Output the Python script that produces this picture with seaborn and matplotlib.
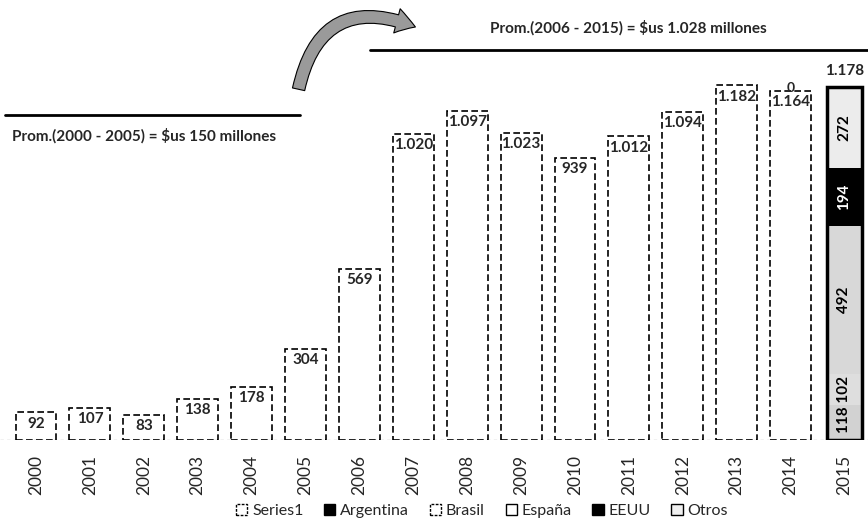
import pandas as pd
import matplotlib.pyplot as plt
import seaborn as sns
from matplotlib.patches import Patch, FancyArrowPatch
from matplotlib.lines import Line2D

# Data (millones de $us)
years = [str(y) for y in range(2000, 2016)]
series1 = [92, 107, 83, 138, 178, 304, 569, 1020, 1097, 1023, 939, 1012, 1094, 1182, 1164]
stack_names = ['Argentina', 'Brasil', 'España', 'EEUU', 'Otros']
stack_2015 = [118, 102, 492, 194, 272]
stack_colors = ['#d2d2d2', '#dedede', '#d8d8d8', '#000000', '#ececec']
stack_text = ['black', 'black', 'black', 'white', 'black']

prom_old = "Prom.(2000 - 2005) = $us 150 millones"
prom_new = "Prom.(2006 - 2015) = $us 1.028 millones"

sns.set_theme(style="white")
plt.rcParams['font.family'] = ['Lato', 'DejaVu Sans']


def fmt(v):
    return f"{v:,}".replace(",", ".")


W, H = 868, 529
fig = plt.figure(figsize=(W / 100, H / 100), dpi=100)
base_px = 440
ax = fig.add_axes([0.0, 1 - base_px / H, 1.0, base_px / H])

df = pd.DataFrame({'year': years[:-1], 'value': series1})
sns.barplot(data=df, x='year', y='value', order=years, color='white',
            edgecolor='black', linewidth=1.2, linestyle=(0, (4, 2)),
            width=0.76, ax=ax)

# stacked 2015 bar
bottom = 0
x15 = len(years) - 1
w15 = 0.64
for name, v, c, tc in zip(stack_names, stack_2015, stack_colors, stack_text):
    ax.bar(x15, v, bottom=bottom, width=w15, color=c, edgecolor=c, linewidth=0)
    if name not in ('Argentina', 'Brasil'):
        ax.text(x15, bottom + v / 2, str(v), rotation=90, ha='center', va='center',
                fontsize=11, fontweight='bold', color=tc)
    bottom += v
ax.bar(x15, bottom, width=w15, fill=False, edgecolor='black', linewidth=2.5)
# the two small bottom segments have their labels side by side
ax.text(x15, 118 + 102 / 2 - 50, "118 102", rotation=90, ha='center', va='center',
        fontsize=11, fontweight='bold', color='black')
ax.annotate(fmt(bottom), (x15, bottom), xytext=(0, 6), textcoords='offset points',
            ha='center', va='bottom', fontsize=11, fontweight='bold')

# value labels inside the top of each bar
for i, v in enumerate(series1):
    ax.annotate(fmt(v), (i, v), xytext=(0, -3), textcoords='offset points',
                ha='center', va='top', fontsize=11, fontweight='bold')
ax.annotate("0", (14, 1164), xytext=(0, 2), textcoords='offset points',
            ha='center', va='center', fontsize=10, fontweight='bold')

ax.axhline(0, color='black', lw=0.8, ls=(0, (3, 3)))
step = 53.9
x0 = -36 / step
ax.set_xlim(x0, x0 + W / step)
ax.set_ylim(0, base_px / 0.3)
ax.set_xlabel('')
ax.set_ylabel('')
ax.set_yticks([])
ax.tick_params(axis='x', labelrotation=90, labelsize=12.5, pad=5)
for s in ax.spines.values():
    s.set_visible(False)

# average lines and notes (decorative, figure coords)
fig.add_artist(Line2D([5 / W, 300 / W], [1 - 115 / H, 1 - 115 / H], color='black', lw=2))
fig.add_artist(Line2D([370 / W, 1.0], [1 - 50 / H, 1 - 50 / H], color='black', lw=2))
fig.text(12 / W, 1 - 136 / H, prom_old, ha='left', va='center', fontsize=11, fontweight='bold')
fig.text(628 / W, 1 - 28 / H, prom_new, ha='center', va='center', fontsize=11, fontweight='bold')

arrow = FancyArrowPatch((298 / W, 1 - 92 / H), (418 / W, 1 - 28 / H),
                        transform=fig.transFigure, connectionstyle='arc3,rad=-0.6',
                        arrowstyle='simple,head_width=18,head_length=14,tail_width=9',
                        facecolor='#9a9a9a', edgecolor='black', lw=0.8)
fig.add_artist(arrow)

handles = [
    Patch(facecolor='white', edgecolor='black', ls=(0, (2, 1)), label='Series1'),
    Patch(facecolor='black', edgecolor='black', label='Argentina'),
    Patch(facecolor='white', edgecolor='black', ls=(0, (2, 1)), label='Brasil'),
    Patch(facecolor='white', edgecolor='black', label='España'),
    Patch(facecolor='black', edgecolor='black', label='EEUU'),
    Patch(facecolor='#f0f0f0', edgecolor='black', label='Otros'),
]
fig.legend(handles=handles, loc='center', bbox_to_anchor=(482 / W, 1 - 511 / H),
           ncol=6, frameon=False, fontsize=11.5, handlelength=0.7, handleheight=0.7,
           handletextpad=0.3, columnspacing=1.3)

fig.savefig('out.png', dpi=100)
